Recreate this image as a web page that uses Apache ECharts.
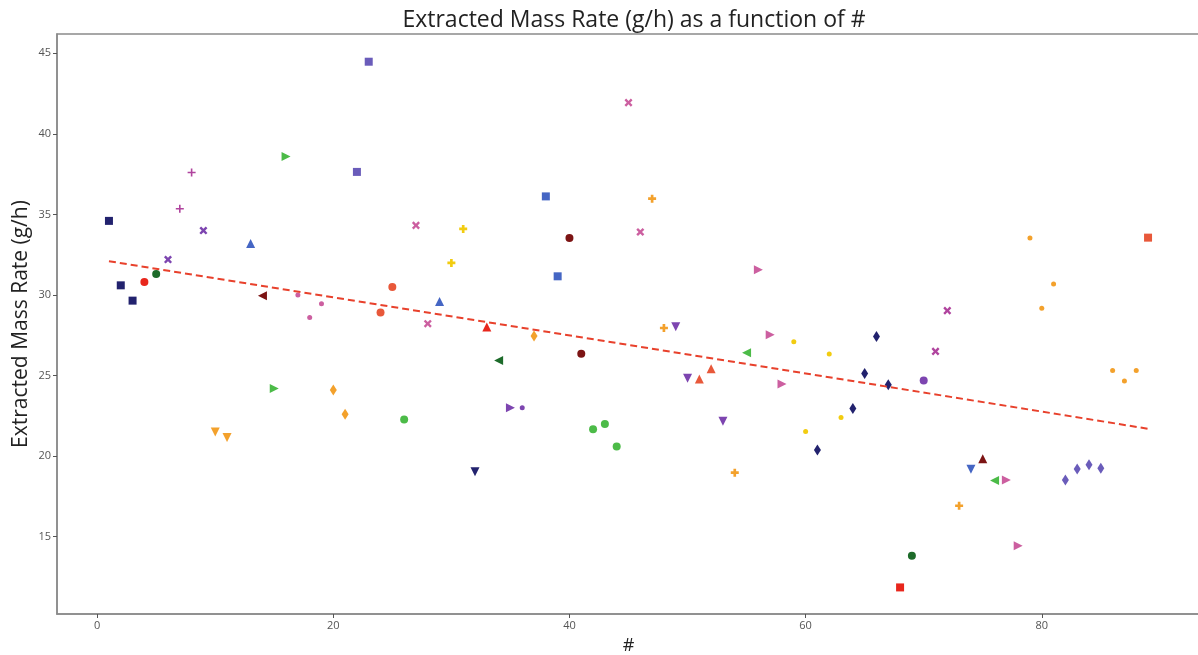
<!DOCTYPE html>
<html>
<head>
<meta charset="utf-8">
<script src="https://cdn.jsdelivr.net/npm/echarts@6/dist/echarts.min.js"></script>
<style>
html,body{margin:0;padding:0;background:#fff;}
#chart{width:1198px;height:655px;}
</style>
</head>
<body>
<div id="chart"></div>
<script>
// ---- data ----
const xValues = [1,2,3,4,5,6,7,8,9,10,11,13,14,15,16,17,18,19,20,21,22,23,24,25,26,27,28,29,30,31,32,33,34,35,36,37,38,39,40,41,42,43,44,45,46,47,48,49,50,51,52,53,54,55,56,57,58,59,60,61,62,63,64,65,66,67,68,69,70,71,72,73,74,75,76,77,78,79,80,81,82,83,84,85,86,87,88,89];
const yValues = [34.6,30.6,29.65,30.8,31.3,32.2,35.35,37.6,34.0,21.5,21.15,33.2,29.95,24.2,38.6,30.0,28.6,29.45,24.1,22.6,37.64,44.48,28.92,30.5,22.28,34.32,28.22,29.6,31.99,34.1,19.03,28.02,25.94,23.0,23.0,27.46,36.12,31.16,33.54,26.36,21.66,22.0,20.59,41.94,33.91,35.98,27.95,28.03,24.83,24.79,25.43,22.16,18.97,26.42,31.57,27.54,24.48,27.1,21.52,20.38,26.34,22.39,22.96,25.12,27.43,24.43,11.85,13.82,24.7,26.5,29.03,16.92,19.18,19.84,18.48,18.52,14.44,33.54,29.17,30.69,18.52,19.2,19.47,19.24,25.32,24.66,25.32,33.56];
const pointGroups = ['sqNavy','sqNavy','sqNavy','ciRed','ciDkGreen','xPurple','plMagenta','plMagenta','xPurple','tdOrange','tdOrange','tuBlue','tlDkRed','trGreen','trGreen','dtPink','dtPink','dtPink','dmOrange','dmOrange','sqSlate','sqSlate','ciCoral','ciCoral','ciGreen','xPink','xPink','tuBlue','plYellow','plYellow','tdNavy','tuRed','tlDkGreen','trPurple','dtPurple','dmOrange','sqBlue','sqBlue','ciDkRed','ciDkRed','ciGreen','ciGreen','ciGreen','xPink','xPink','plOrange','plOrange','tdPurple','tdPurple','tuCoral','tuCoral','tdPurple','plOrange','tlGreen','trPink','trPink','trPink','dtYellow','dtYellow','dmNavy','dtYellow','dtYellow','dmNavy','dmNavy','dmNavy','dmNavy','sqRed','ciDkGreen','ciPurple','xMagenta','xMagenta','plOrange','tdBlue','tuDkRed','tlGreen','trPink','trPink','dtOrange','dtOrange','dtOrange','dmSlate','dmSlate','dmSlate','dmSlate','dtOrange','dtOrange','dtOrange','sqCoral'];
const trendX = [1, 89];
const trendY = [32.1, 21.7];
const xTicks = [0, 20, 40, 60, 80];
const yTicks = [15, 20, 25, 30, 35, 40, 45];

// ---- styles ----
const PLUS = 'path://M-1,-3L1,-3L1,-1L3,-1L3,1L1,1L1,3L-1,3L-1,1L-3,1L-3,-1L-1,-1Z';
const THINPLUS = 'path://M-0.6,-3L0.6,-3L0.6,-0.6L3,-0.6L3,0.6L0.6,0.6L0.6,3L-0.6,3L-0.6,0.6L-3,0.6L-3,-0.6L-0.6,-0.6Z';
const XMARK = 'path://M-0.8,-3L0.8,-3L0.8,-0.8L3,-0.8L3,0.8L0.8,0.8L0.8,3L-0.8,3L-0.8,0.8L-3,0.8L-3,-0.8L-0.8,-0.8Z';
const kinds = {
  sq: {symbol:'rect', size:8, rot:0},
  ci: {symbol:'circle', size:8, rot:0},
  tu: {symbol:'triangle', size:9, rot:0},
  td: {symbol:'triangle', size:9, rot:180},
  tl: {symbol:'triangle', size:9, rot:90},
  tr: {symbol:'triangle', size:9, rot:-90},
  dm: {symbol:'diamond', size:[7,11], rot:0},
  dt: {symbol:'circle', size:5, rot:0},
  pl: {symbol:PLUS, size:8, rot:0},
  tp: {symbol:THINPLUS, size:8, rot:0},
  x:  {symbol:XMARK, size:9, rot:45}
};
const colors = {
  Navy:'#22226e', Red:'#e8261c', DkGreen:'#1d6b2a', Purple:'#7d45b0', Magenta:'#b0449e',
  Orange:'#f3a12c', Blue:'#4566c4', DkRed:'#7c1414', Green:'#4cbb48', Pink:'#cc5fa0',
  Slate:'#6a5cba', Coral:'#e8583a', Yellow:'#f2cc10'
};
function styleOf(key){
  if (key.startsWith('x')) return {kind: kinds.x, color: colors[key.slice(1)]};
  let k = key.slice(0,2);
  if (key === 'plMagenta') k = 'tp';
  return {kind: kinds[k], color: colors[key.slice(2)]};
}

const groupOrder = [];
const groupData = {};
xValues.forEach((x, i) => {
  const g = pointGroups[i];
  if (!groupData[g]) { groupData[g] = []; groupOrder.push(g); }
  groupData[g].push([x, yValues[i]]);
});

const series = groupOrder.map(g => {
  const s = styleOf(g);
  return {
    type: 'scatter',
    name: g,
    data: groupData[g],
    symbol: s.kind.symbol,
    symbolSize: s.kind.size,
    symbolRotate: s.kind.rot,
    itemStyle: {color: s.color, opacity: 1},
    emphasis: {disabled: true},
    z: 3
  };
});
series.push({
  type: 'line',
  data: trendX.map((x, i) => [x, trendY[i]]),
  showSymbol: false,
  symbol: 'none',
  lineStyle: {color: '#e8412c', width: 2, type: [7, 4]},
  z: 4,
  silent: true
});

const chart = echarts.init(document.getElementById('chart'), null, {renderer: 'canvas'});
chart.setOption({
  animation: false,
  backgroundColor: '#ffffff',
  title: {
    text: 'Extracted Mass Rate (g/h) as a function of #',
    left: 629, top: 4, textAlign: 'center',
    textStyle: {fontFamily: 'Open Sans', fontSize: 23, fontWeight: 'normal', color: '#222'}
  },
  grid: {left: 57, top: 34, width: 1143, height: 580, outerBoundsMode: 'none', containLabel: false, show: true, borderColor: '#8a8a8a', borderWidth: 1.5, backgroundColor: 'transparent'},
  xAxis: {
    type: 'value', min: -3.4, max: 93.4,
    name: '#', nameLocation: 'middle', nameGap: 23, nameMoveOverlap: false,
    nameTextStyle: {fontFamily: 'Open Sans', fontSize: 18, color: '#222'},
    axisLine: {show: true, onZero: false, lineStyle: {color: '#8a8a8a', width: 1.5}},
    axisTick: {show: true, length: 4, customValues: xTicks, lineStyle: {color: '#555'}},
    axisLabel: {customValues: xTicks, fontFamily: 'Open Sans', fontSize: 11, color: '#555', margin: 6},
    splitLine: {show: false}
  },
  yAxis: {
    type: 'value', min: 10.2, max: 46.2,
    name: 'Extracted Mass Rate (g/h)', nameLocation: 'middle', nameGap: 25, nameMoveOverlap: false,
    nameTextStyle: {fontFamily: 'Open Sans', fontSize: 21, color: '#222'},
    axisLine: {show: true, onZero: false, lineStyle: {color: '#8a8a8a', width: 1.5}},
    axisTick: {show: true, length: 4, customValues: yTicks, lineStyle: {color: '#555'}},
    axisLabel: {customValues: yTicks, fontFamily: 'Open Sans', fontSize: 11, color: '#555', margin: 6},
    splitLine: {show: false}
  },
  series: series
});
</script>
</body>
</html>
